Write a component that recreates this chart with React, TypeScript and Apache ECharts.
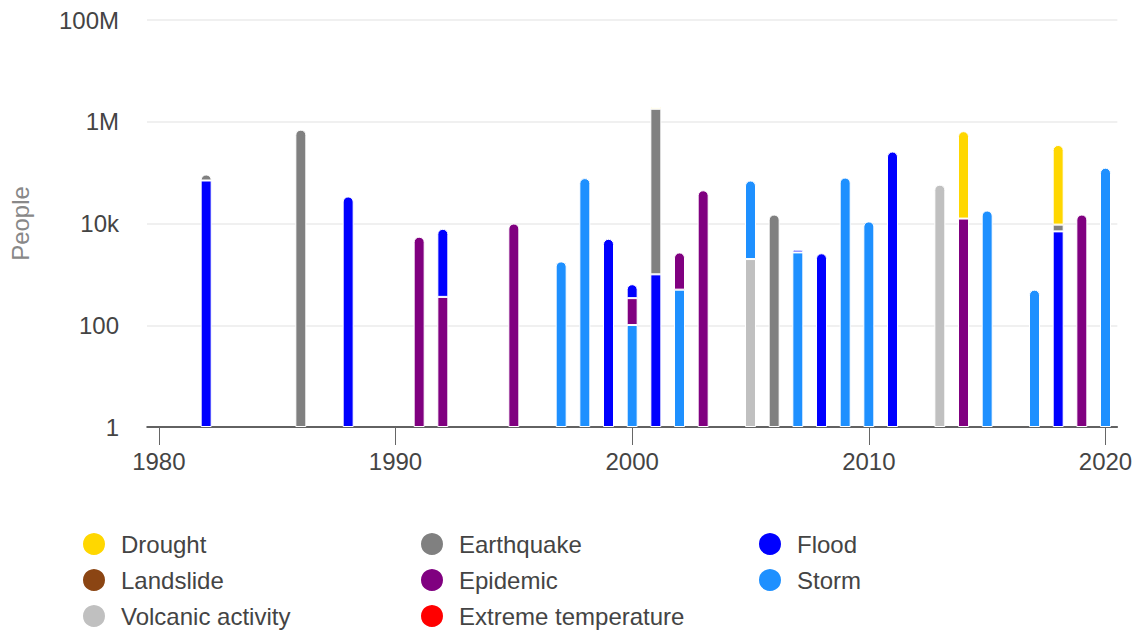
import React, { useEffect, useRef } from "react";
import * as echarts from "echarts";

const years = [1982, 1986, 1988, 1991, 1992, 1995, 1997, 1998, 1999, 2000, 2001, 2002, 2003, 2005, 2006, 2007, 2008, 2009, 2010, 2011, 2013, 2014, 2015, 2017, 2018, 2019, 2020];

// values per year (null = none)
const drought =    [null, null, null, null, null, null, null, null, null, null, 150000, null, null, null, null, null, null, null, null, null, null, 640000, null, null, 340000, null, null];
const earthquake = [22000, 700000, null, null, null, null, null, null, null, null, 1800000, null, null, null, 15000, null, null, null, null, null, null, null, null, null, 2500, null, null];
const flood =      [70000, null, 34000, null, 7500, null, null, null, 5000, 300, 1000, null, null, null, null, 350, 2600, null, null, 260000, null, null, null, null, 7000, null, null];
const landslide =  [null, null, null, null, null, null, null, null, null, null, null, null, null, null, null, null, null, null, null, null, null, null, null, null, null, null, null];
const epidemic =   [null, null, null, 5500, 360, 10000, null, null, null, 240, null, 2200, 45000, null, null, null, null, null, null, null, null, 12500, null, null, null, 15000, null];
const storm =      [null, null, null, null, null, null, 1800, 78000, null, 100, null, 500, null, 68000, null, 2700, null, 80000, 11000, null, null, null, 18000, 500, null, null, 125000];
const volcanic =   [null, null, null, null, null, null, null, null, null, null, null, null, null, 2000, null, null, null, null, null, null, 58000, null, null, null, null, null, null];
const extremeTemp: (number | null)[] = years.map(() => null);

const firstYear = 1980;
const lastYear = 2020;
const tickStep = 10;
const axisFloor = 1; // log axis starts at 1

// bottom-to-top stacking order
const seriesDefs = [
  { name: "Extreme temperature", color: "#FF0000", values: extremeTemp },
  { name: "Volcanic activity", color: "#C0C0C0", values: volcanic },
  { name: "Storm", color: "#1E90FF", values: storm },
  { name: "Epidemic", color: "#800080", values: epidemic },
  { name: "Landslide", color: "#8B4513", values: landslide },
  { name: "Flood", color: "#0000FF", values: flood },
  { name: "Earthquake", color: "#808080", values: earthquake },
  { name: "Drought", color: "#FFD700", values: drought },
];

const legendCols = [
  ["Drought", "Landslide", "Volcanic activity"],
  ["Earthquake", "Epidemic", "Extreme temperature"],
  ["Flood", "Storm"],
];

function fmtY(v: number) {
  if (v >= 1e6) return v / 1e6 + "M";
  if (v >= 1e3) return v / 1e3 + "k";
  return String(v);
}

export default function App() {
  const ref = useRef<HTMLDivElement>(null);
  useEffect(() => {
    if (!ref.current) return;
    const chart = echarts.init(ref.current, undefined, { renderer: "svg" });

    const cats: string[] = [];
    for (let y = firstYear; y <= lastYear; y++) cats.push(String(y));

    const topIndex = years.map((_, i) => {
      let top = -1;
      seriesDefs.forEach((s, k) => {
        if (s.values[i] != null) top = k;
      });
      return top;
    });

    // invisible base so that stacked bars on the log axis start at 1
    const base = {
      name: "__base",
      type: "bar",
      stack: "total",
      barWidth: 11,
      silent: true,
      itemStyle: { color: "rgba(0,0,0,0)" },
      data: cats.map(() => axisFloor),
    };

    const series = seriesDefs.map((s, k) => ({
      name: s.name,
      type: "bar",
      stack: "total",
      barWidth: 11,
      color: s.color,
      itemStyle: { color: s.color, borderColor: "#ffffff", borderWidth: 1 },
      data: cats.map((c) => {
        const i = years.indexOf(Number(c));
        if (i < 0 || s.values[i] == null) return "-";
        return {
          value: s.values[i],
          itemStyle: { borderRadius: topIndex[i] === k ? [5, 5, 0, 0] : 0 },
        };
      }),
    }));

    const font = "Liberation Sans, Arial, sans-serif";
    const legends = legendCols.map((col, ci) => ({
      data: col,
      orient: "vertical",
      left: [81, 419, 757][ci],
      top: 531,
      padding: 0,
      itemGap: 10,
      itemWidth: 24,
      itemHeight: 24,
      icon: "circle",
      textStyle: { fontSize: 24, color: "#444", fontFamily: font, padding: [0, 0, 0, 10] },
    }));

    const isTick = (idx: number) => (firstYear + idx) % tickStep === 0;

    chart.setOption({
      animation: false,
      textStyle: { fontFamily: font },
      legend: legends,
      grid: { left: 145, right: 3, top: 20, bottom: 207, containLabel: false },
      xAxis: {
        type: "category",
        data: cats,
        axisLine: { show: true, lineStyle: { color: "#333", width: 1.5 } },
        axisTick: { show: true, alignWithLabel: true, interval: (idx: number) => isTick(idx), length: 18, lineStyle: { color: "#666" } },
        axisLabel: {
          interval: (idx: number) => isTick(idx),
          fontSize: 24,
          color: "#444",
          margin: 22,
          fontFamily: font,
        },
      },
      yAxis: {
        type: "log",
        logBase: 10,
        min: 1,
        max: 1e8,
        interval: 2,
        name: "People",
        nameLocation: "middle",
        nameGap: 115,
        nameTextStyle: { fontSize: 24, color: "#888", fontFamily: font },
        axisLine: { show: false },
        axisTick: { show: false },
        splitLine: { show: true, lineStyle: { color: "#ebebeb", width: 1.5 } },
        axisLabel: { formatter: fmtY, fontSize: 24, color: "#444", margin: 28, fontFamily: font },
      },
      series: [base, ...series],
    });
    return () => chart.dispose();
  }, []);
  return <div ref={ref} style={{ width: 1135, height: 634, position: "absolute", left: 0, top: 0 }} />;
}
